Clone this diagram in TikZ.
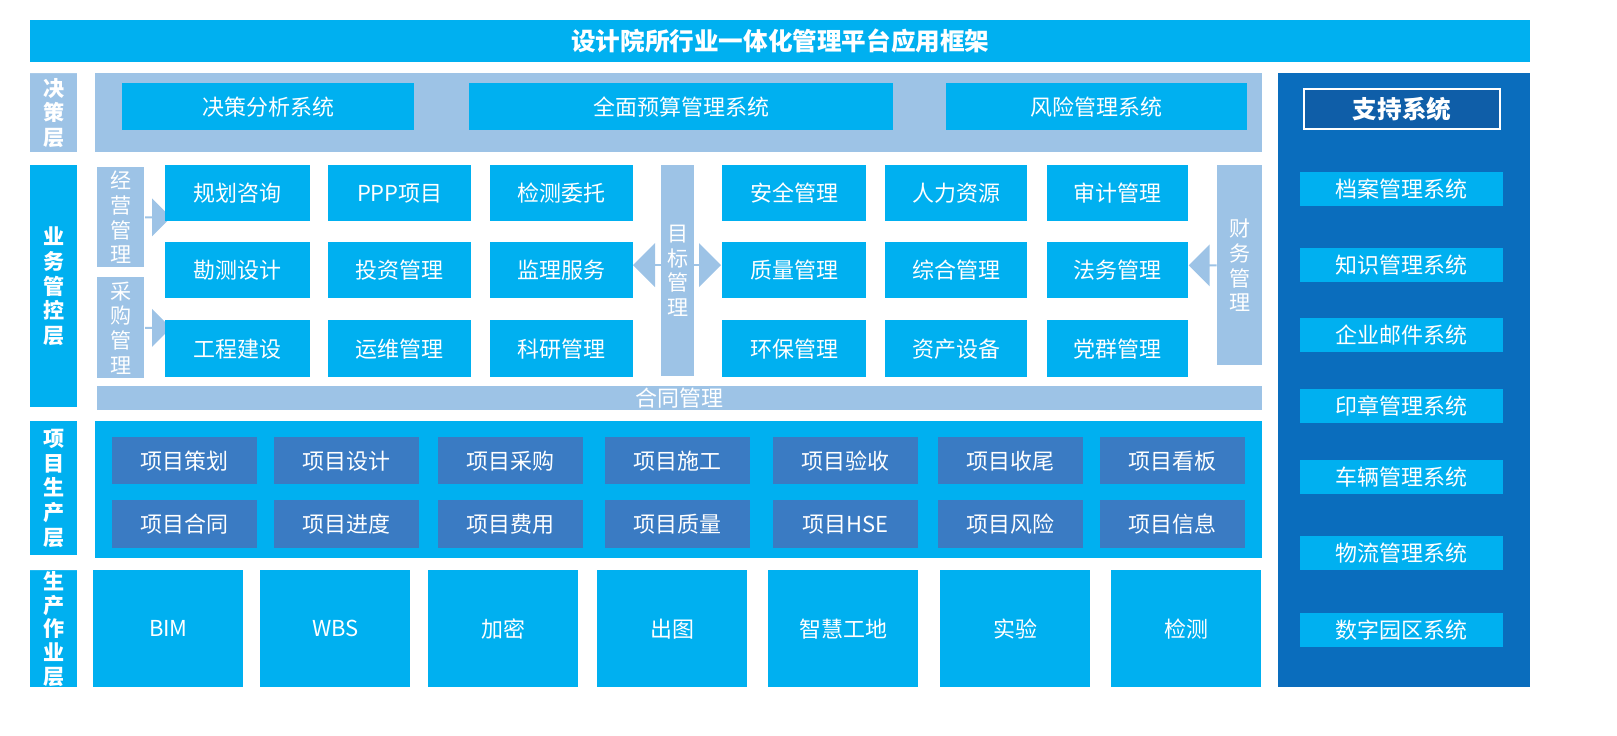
\documentclass[tikz,border=0pt]{standalone}
\usepackage{fontspec}
\setmainfont{Noto Sans CJK SC}
\usetikzlibrary{shapes.arrows,positioning}
\definecolor{cyanb}{HTML}{00B0F0}
\definecolor{lightb}{HTML}{9DC3E6}
\definecolor{darkb}{HTML}{3A7BC3}
\definecolor{navyb}{HTML}{0A6DBD}
\definecolor{headb}{HTML}{0F5EA8}
\newlength\px
\setlength\px{0.02cm}

\begin{document}
\begin{tikzpicture}[
    x=0.02cm, y=-0.02cm,
    blk/.style={rectangle, anchor=north west, inner sep=0pt, text=white, font=\fontsize{12.5}{14}\selectfont},
    sys/.style={blk, fill=cyanb},
    proj/.style={blk, fill=darkb},
    pale/.style={blk, fill=lightb},
    layer/.style={blk, fill=cyanb, align=center, font=\fontsize{12}{14}\selectfont\bfseries},
    barlabel/.style={blk, fill=lightb, align=center, font=\fontsize{12}{14}\selectfont},
    blockarrow/.style={single arrow, fill=lightb, inner sep=0pt, single arrow head extend=7\px, anchor=tail}
]
    \useasboundingbox (0,0) rectangle (1617,735);

    % title
    \node[sys, minimum width=1500\px, minimum height=42\px, font=\fontsize{14}{16}\selectfont\bfseries] (title) at (30,20) {设计院所行业一体化管理平台应用框架};

    % layer labels
    \node[barlabel, minimum width=47\px, minimum height=79\px] (ljc) at (30,73) {};
    \node[text=white, align=center, font=\fontsize{12}{14}\selectfont\bfseries] at (ljc.center) {决\\策\\层};
    \node[layer, minimum width=47\px, minimum height=242\px] (lyw) at (30,165) {业\\务\\管\\控\\层};
    \node[layer, minimum width=47\px, minimum height=134\px] (lxm) at (30,421) {项\\目\\生\\产\\层};
    \node[layer, minimum width=47\px, minimum height=117\px] (lsc) at (30,570) {};
    \node[text=white, align=center, font=\fontsize{12}{13.5}\selectfont\bfseries] at (lsc.center) {生\\产\\作\\业\\层};
    \fill[white] (30,555) rectangle (77,570) (30,687) rectangle (77,700) (30,62) rectangle (77,73);

    % decision layer
    \node[pale, minimum width=1167\px, minimum height=79\px] (jcbg) at (95,73) {};
    \node[sys, minimum width=292\px, minimum height=47\px] (jcfx) at (122,83) {决策分析系统};
    \node[sys, minimum width=424\px, minimum height=47\px] (qmys) at (469,83) {全面预算管理系统};
    \node[sys, minimum width=301\px, minimum height=47\px] (fxgl) at (946,83) {风险管理系统};

    % business layer
    \node[barlabel, minimum width=47\px, minimum height=100\px] (jygl) at (97,167) {经\\营\\管\\理};
    \node[barlabel, minimum width=47\px, minimum height=101\px] (cggl) at (97,277) {采\\购\\管\\理};
    \node[blockarrow, minimum height=26\px, minimum width=38\px] at (jygl.east) {};
    \node[blockarrow, minimum height=26\px, minimum width=38\px] at (cggl.east) {};
    \node[double arrow, fill=lightb, inner sep=0pt, minimum height=88\px, minimum width=44\px, double arrow head extend=9\px] at (677,265) {};
    \node[barlabel, minimum width=33\px, minimum height=211\px] (mbgl) at (661,165) {目\\标\\管\\理};
    \node[barlabel, minimum width=45\px, minimum height=200\px] (cwgl) at (1217,165) {财\\务\\管\\理};
    \node[blockarrow, shape border rotate=180, minimum height=28\px, minimum width=42\px] at (cwgl.west) {};

    \foreach \x/\w/\a/\b/\c [count=\i] in {
        165/145/规划咨询/勘测设计/工程建设,
        328/143/PPP项目/投资管理/运维管理,
        490/143/检测委托/监理服务/科研管理,
        722/144/安全管理/质量管理/环保管理,
        885/142/人力资源/综合管理/资产设备,
        1047/141/审计管理/法务管理/党群管理} {
        \node[sys, minimum width=\w\px, minimum height=56\px] (yw\i a) at (\x,165) {\a};
        \node[sys, minimum width=\w\px, minimum height=56\px] (yw\i b) at (\x,242) {\b};
        \node[sys, minimum width=\w\px, minimum height=57\px] (yw\i c) at (\x,320) {\c};
    }
    \node[pale, minimum width=1165\px, minimum height=24\px] (htgl) at (97,386) {合同管理};

    % project layer
    \node[sys, minimum width=1167\px, minimum height=137\px] (xmbg) at (95,421) {};
    \foreach \x/\a/\b [count=\i] in {
        112/项目策划/项目合同, 274/项目设计/项目进度, 438/项目采购/项目费用,
        605/项目施工/项目质量, 773/项目验收/项目HSE, 938/项目收尾/项目风险,
        1100/项目看板/项目信息} {
        \node[proj, minimum width=145\px, minimum height=47\px] (xm\i a) at (\x,437) {\a};
        \node[proj, minimum width=145\px, minimum height=48\px] (xm\i b) at (\x,500) {\b};
    }

    % production layer
    \foreach \x/\t [count=\i] in {
        93/BIM, 260/WBS, 428/加密, 597/出图, 768/智慧工地, 940/实验, 1111/检测} {
        \node[sys, minimum width=150\px, minimum height=117\px] (zy\i) at (\x,570) {\t};
    }

    % support systems
    \node[blk, fill=navyb, minimum width=252\px, minimum height=614\px] (zcbg) at (1278,73) {};
    \node[blk, fill=headb, draw=white, line width=1.2pt, minimum width=196\px, minimum height=40\px,
          font=\fontsize{14}{16}\selectfont\bfseries] (zcxt) at (1303,88) {支持系统};
    \foreach \y/\t [count=\i] in {
        172/档案管理系统, 248/知识管理系统, 318/企业邮件系统, 389/印章管理系统,
        460/车辆管理系统, 536/物流管理系统, 613/数字园区系统} {
        \node[sys, minimum width=203\px, minimum height=34\px] (zc\i) at (1300,\y) {\t};
    }
\end{tikzpicture}
\end{document}
